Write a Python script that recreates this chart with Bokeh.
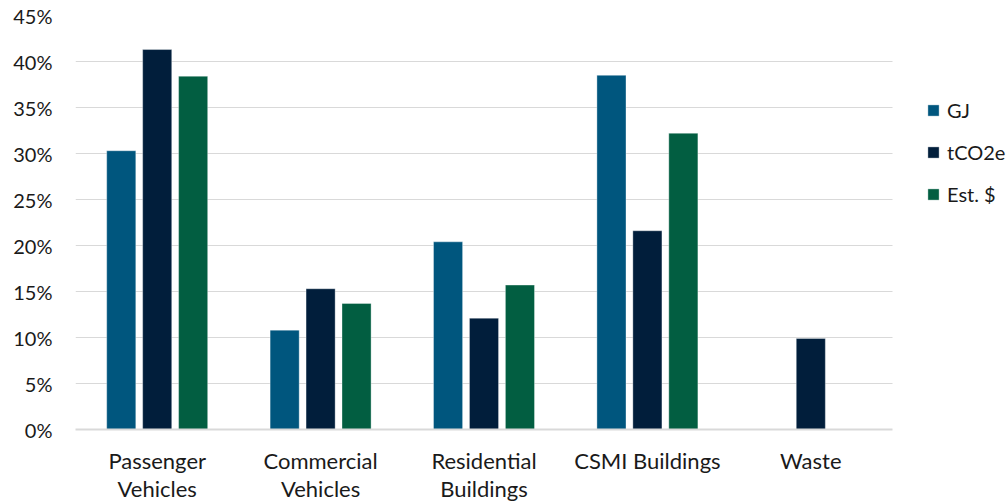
from bokeh.plotting import figure
from bokeh.models import (Range1d, NumeralTickFormatter, SingleIntervalTicker, FixedTicker,
                          Legend, LegendItem, ColumnDataSource, LinearAxis)
from bokeh.transform import dodge
from bokeh.embed import file_html
from bokeh.resources import INLINE

categories = ["Passenger Vehicles", "Commercial Vehicles", "Residential Buildings", "CSMI Buildings", "Waste"]
tick_line1 = ["Passenger", "Commercial", "Residential", "CSMI Buildings", "Waste"]
tick_line2 = ["Vehicles", "Vehicles", "Buildings", "", ""]
series = ["GJ", "tCO2e", "Est. $"]
gj = [0.303, 0.108, 0.204, 0.385, 0.0]
tco2e = [0.413, 0.153, 0.121, 0.216, 0.099]
est = [0.384, 0.137, 0.157, 0.322, 0.0]
colors = ["#00567e", "#011e3b", "#025e41"]

n = len(categories)
pos = [i + 0.5 for i in range(n)]
src = ColumnDataSource(dict(x=pos, cat=categories, gj=gj, tco2e=tco2e, est=est))

FONT = "Lato"
FS = "20px"
XFS = "22px"
TXT = "#1a1a1a"
# frame spans to the right edge so the legend can sit inside it; categories occupy [0, n]
p = figure(width=1006, height=504, x_range=Range1d(0, n * 931 / 817),
           y_range=Range1d(0, 0.45), output_backend="svg", toolbar_location=None,
           min_border_left=75, min_border_right=0, min_border_top=15, min_border_bottom=10,
           x_axis_type=None)
p.outline_line_color = None

r1 = p.vbar(x=dodge("x", -0.22), top="gj", width=0.178, source=src,
            fill_color=colors[0], line_color="white", line_alpha=0.5, line_width=0.7)
r2 = p.vbar(x=dodge("x", 0.0), top="tco2e", width=0.178, source=src,
            fill_color=colors[1], line_color="white", line_alpha=0.5, line_width=0.7)
r3 = p.vbar(x=dodge("x", 0.22), top="est", width=0.178, source=src,
            fill_color=colors[2], line_color="white", line_alpha=0.5, line_width=0.7)

p.yaxis.ticker = SingleIntervalTicker(interval=0.05)
p.yaxis.formatter = NumeralTickFormatter(format="0%")
p.yaxis.axis_line_color = None
p.yaxis.major_tick_line_color = None
p.yaxis.minor_tick_line_color = None
p.yaxis.major_label_standoff = 17
p.yaxis.major_label_text_font = FONT
p.yaxis.major_label_text_font_size = FS
p.yaxis.major_label_text_color = TXT

ax1 = LinearAxis(ticker=FixedTicker(ticks=pos), bounds=(0, n),
                 axis_line_color="#d9d9d9", axis_line_width=2,
                 major_tick_line_color=None, minor_tick_line_color=None,
                 major_label_standoff=11, major_label_text_font=FONT,
                 major_label_text_font_size=XFS, major_label_text_color=TXT,
                 major_label_overrides=dict(zip(pos, tick_line1)))
ax2 = LinearAxis(ticker=FixedTicker(ticks=pos), bounds=(0, n),
                 axis_line_color=None, major_tick_line_color=None, minor_tick_line_color=None,
                 major_label_standoff=-8, major_label_text_font=FONT,
                 major_label_text_font_size=XFS, major_label_text_color=TXT,
                 major_label_overrides=dict(zip(pos, tick_line2)))
p.add_layout(ax1, "below")
p.add_layout(ax2, "below")

p.ygrid.grid_line_color = "#d9d9d9"
p.ygrid.grid_line_width = 1
p.ygrid.cross_bounds = (0, n)

legend = Legend(items=[LegendItem(label=series[0], renderers=[r1]),
                       LegendItem(label=series[1], renderers=[r2]),
                       LegendItem(label=series[2], renderers=[r3])],
                location=(851, 223), padding=0, margin=0, spacing=18,
                glyph_width=14, glyph_height=14, label_height=20, label_standoff=7,
                label_text_font=FONT, label_text_font_size=FS, label_text_color=TXT,
                border_line_color=None, background_fill_alpha=0)
p.add_layout(legend)

open("out.html", "w").write(file_html(p, INLINE))
